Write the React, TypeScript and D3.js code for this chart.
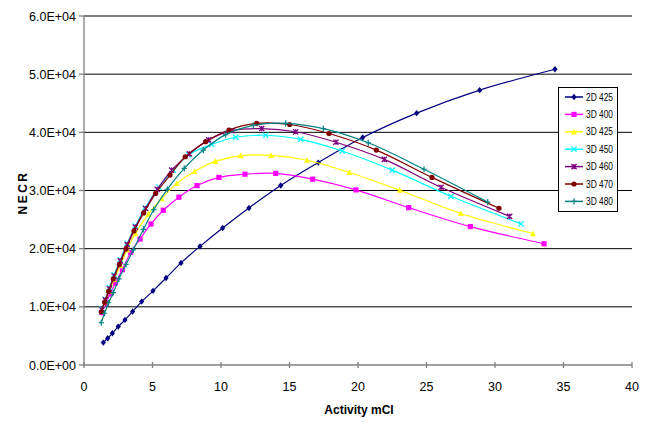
import React, { useEffect, useRef } from 'react';
import * as d3 from 'd3';

// series names and styles
const seriesNames = ['2D 425', '3D 400', '3D 425', '3D 450', '3D 460', '3D 470', '3D 480'];
const seriesColors = ['#000080', '#FF00FF', '#FFFF00', '#00FFFF', '#800080', '#800000', '#008080'];
const seriesMarkers = ['diamond', 'square', 'triangle', 'x', 'star', 'circle', 'plus'];

// activity (mCi) values per series
const act2D425 = [1.41, 1.73, 2.07, 2.5, 2.99, 3.55, 4.21, 5.04, 5.99, 7.08, 8.47, 10.12, 12.04, 14.36, 17.1, 20.34, 24.28, 28.88, 34.38];
const necr2D425 = [3850, 4600, 5450, 6600, 7750, 9200, 10900, 12750, 14950, 17550, 20400, 23550, 27000, 30850, 34800, 39100, 43300, 47250, 50850];

const act3D400 = [1.3, 1.6, 1.9, 2.3, 2.8, 3.41, 4.09, 4.89, 5.79, 6.93, 8.25, 9.85, 11.75, 13.99, 16.69, 19.85, 23.7, 28.2, 33.58];
const necr3D400 = [9000, 10600, 12200, 14100, 16400, 19350, 21650, 24250, 26600, 28850, 30850, 32250, 32800, 32950, 31950, 30100, 27050, 23800, 20850];

const act3D425 = [1.3, 1.55, 1.85, 2.2, 2.65, 3.15, 3.75, 4.7, 5.67, 6.77, 8.08, 9.58, 11.44, 13.65, 16.28, 19.37, 23.04, 27.5, 32.77];
const necr3D425 = [9200, 10900, 12700, 14700, 17100, 19800, 22600, 25950, 28600, 31200, 33300, 35000, 36000, 36050, 35200, 33100, 30050, 26050, 22600];

const act3D450 = [1.3, 1.55, 1.85, 2.2, 2.65, 3.15, 3.75, 4.45, 5.47, 6.52, 7.64, 9.32, 11.07, 13.26, 15.82, 18.85, 22.5, 26.79, 31.9];
const necr3D450 = [9600, 11300, 13300, 15500, 18100, 20900, 23900, 27000, 30600, 33450, 36150, 37900, 39150, 39500, 38800, 36800, 33500, 29000, 24250];

const act3D460 = [1.3, 1.55, 1.85, 2.2, 2.65, 3.15, 3.75, 4.5, 5.35, 6.4, 7.69, 9.1, 10.8, 12.97, 15.45, 18.39, 21.92, 26.06, 31.07];
const necr3D460 = [9500, 11200, 13100, 15300, 17900, 20700, 23700, 26900, 30200, 33500, 36300, 38700, 40300, 40650, 40100, 38300, 35350, 30550, 25550];

const act3D470 = [1.26, 1.51, 1.8, 2.14, 2.58, 3.07, 3.65, 4.36, 5.23, 6.28, 7.39, 8.88, 10.58, 12.61, 15.01, 17.88, 21.34, 25.4, 30.29];
const necr3D470 = [9150, 10800, 12650, 14800, 17250, 19950, 23050, 26150, 29500, 32650, 35800, 38400, 40400, 41550, 41350, 39800, 36950, 32250, 26950];

const act3D480 = [1.26, 1.5, 1.8, 2.14, 2.55, 3.07, 3.6, 4.33, 5.09, 6.08, 7.32, 8.71, 10.34, 12.36, 14.72, 17.47, 20.75, 24.82, 29.47];
const necr3D480 = [7300, 8900, 10700, 12450, 14800, 17300, 19800, 23300, 26700, 30200, 33800, 36950, 39600, 41200, 41550, 40650, 38200, 33650, 28000];

const allAct = [act2D425, act3D400, act3D425, act3D450, act3D460, act3D470, act3D480];
const allNecr = [necr2D425, necr3D400, necr3D425, necr3D450, necr3D460, necr3D470, necr3D480];

const xTicks = [0, 5, 10, 15, 20, 25, 30, 35, 40];
const yTicks = [0, 10000, 20000, 30000, 40000, 50000, 60000];

function drawMarker(g: any, type: string, cx: number, cy: number, color: string) {
  const s = 2.6;
  if (type === 'diamond') {
    g.append('path').attr('d', `M${cx},${cy - s - 0.6}L${cx + s},${cy}L${cx},${cy + s + 0.6}L${cx - s},${cy}Z`).attr('fill', color);
  } else if (type === 'square') {
    g.append('rect').attr('x', cx - s).attr('y', cy - s).attr('width', 2 * s).attr('height', 2 * s).attr('fill', color);
  } else if (type === 'triangle') {
    g.append('path').attr('d', `M${cx},${cy - s - 0.5}L${cx + s + 0.3},${cy + s}L${cx - s - 0.3},${cy + s}Z`).attr('fill', color);
  } else if (type === 'circle') {
    g.append('circle').attr('cx', cx).attr('cy', cy).attr('r', s).attr('fill', color);
  } else if (type === 'x') {
    g.append('path').attr('d', `M${cx - s},${cy - s}L${cx + s},${cy + s}M${cx - s},${cy + s}L${cx + s},${cy - s}`).attr('stroke', color).attr('stroke-width', 1.3);
  } else if (type === 'star') {
    g.append('path').attr('d', `M${cx - s},${cy - s}L${cx + s},${cy + s}M${cx - s},${cy + s}L${cx + s},${cy - s}M${cx},${cy - s}L${cx},${cy + s}`).attr('stroke', color).attr('stroke-width', 1.3);
  } else if (type === 'plus') {
    g.append('path').attr('d', `M${cx - s},${cy}L${cx + s},${cy}M${cx},${cy - s - 0.5}L${cx},${cy + s + 0.5}`).attr('stroke', color).attr('stroke-width', 1.2);
  }
}

function App() {
  const ref = useRef<SVGSVGElement>(null);

  useEffect(() => {
    const svg = d3.select(ref.current);
    svg.selectAll('*').remove();

    const left = 84, right = 632, top = 16, bottom = 365;
    const x = d3.scaleLinear().domain([0, 40]).range([left, right]);
    const y = d3.scaleLinear().domain([0, 60000]).range([bottom, top]);
    const font = 'Liberation Sans, Arial, sans-serif';

    // gridlines
    svg.append('g').selectAll('line').data(yTicks.slice(1)).enter().append('line')
      .attr('x1', left).attr('x2', right)
      .attr('y1', d => y(d)).attr('y2', d => y(d))
      .attr('stroke', '#000').attr('stroke-width', 1);

    // axes
    const axes = svg.append('g').attr('stroke', '#808080').attr('stroke-width', 1.3);
    axes.append('line').attr('x1', left).attr('x2', left).attr('y1', top).attr('y2', bottom);
    axes.append('line').attr('x1', left).attr('x2', right).attr('y1', bottom).attr('y2', bottom);
    axes.selectAll('.yt').data(yTicks).enter().append('line')
      .attr('x1', left - 5).attr('x2', left).attr('y1', d => y(d)).attr('y2', d => y(d));
    axes.selectAll('.xt').data(xTicks).enter().append('line')
      .attr('x1', d => x(d)).attr('x2', d => x(d)).attr('y1', bottom - 3).attr('y2', bottom + 3);

    svg.append('g').selectAll('text').data(yTicks).enter().append('text')
      .attr('x', left - 8).attr('y', d => y(d) + 4.5)
      .attr('text-anchor', 'end').attr('font-family', font).attr('font-size', 12.5)
      .text(d => (d / 10000).toFixed(1) + (d === 0 ? 'E+00' : 'E+04'));

    svg.append('g').selectAll('text').data(xTicks).enter().append('text')
      .attr('x', d => x(d)).attr('y', bottom + 26)
      .attr('text-anchor', 'middle').attr('font-family', font).attr('font-size', 12.5)
      .text(d => String(d));

    svg.append('text').attr('x', (left + right) / 2 + 1).attr('y', 414)
      .attr('text-anchor', 'middle').attr('font-family', font).attr('font-size', 12).attr('font-weight', 'bold')
      .text('Activity mCI');

    svg.append('text').attr('transform', `translate(27,${(top + bottom) / 2 + 2}) rotate(-90)`)
      .attr('text-anchor', 'middle').attr('font-family', font).attr('font-size', 12).attr('font-weight', 'bold')
      .attr('letter-spacing', 2.5)
      .text('NECR');

    // series
    const line = d3.line<[number, number]>().x(d => x(d[0])).y(d => y(d[1])).curve(d3.curveCatmullRom.alpha(0.5));
    seriesNames.forEach((name, i) => {
      const pts: [number, number][] = allAct[i].map((a, j) => [a, allNecr[i][j]]);
      const g = svg.append('g');
      g.append('path').attr('d', line(pts)).attr('fill', 'none').attr('stroke', seriesColors[i]).attr('stroke-width', 1.2);
      pts.forEach(p => drawMarker(g, seriesMarkers[i], x(p[0]), y(p[1]), seriesColors[i]));
    });

    // legend
    const lg = svg.append('g');
    lg.append('rect').attr('x', 558.5).attr('y', 87.5).attr('width', 59).attr('height', 124)
      .attr('fill', '#fff').attr('stroke', '#000').attr('stroke-width', 1);
    seriesNames.forEach((name, i) => {
      const ly = 97 + i * 17.4;
      lg.append('line').attr('x1', 565).attr('x2', 583).attr('y1', ly).attr('y2', ly)
        .attr('stroke', seriesColors[i]).attr('stroke-width', 1.5);
      drawMarker(lg, seriesMarkers[i], 574, ly, seriesColors[i]);
      lg.append('text').attr('x', 586).attr('y', ly + 3.5)
        .attr('font-family', font).attr('font-size', 10)
        .attr('textLength', 27).attr('lengthAdjust', 'spacingAndGlyphs')
        .text(name);
    });
  }, []);

  return <svg ref={ref} width={656} height={422} style={{ position: 'absolute', left: 0, top: 0, display: 'block' }} />;
}

export default App;
